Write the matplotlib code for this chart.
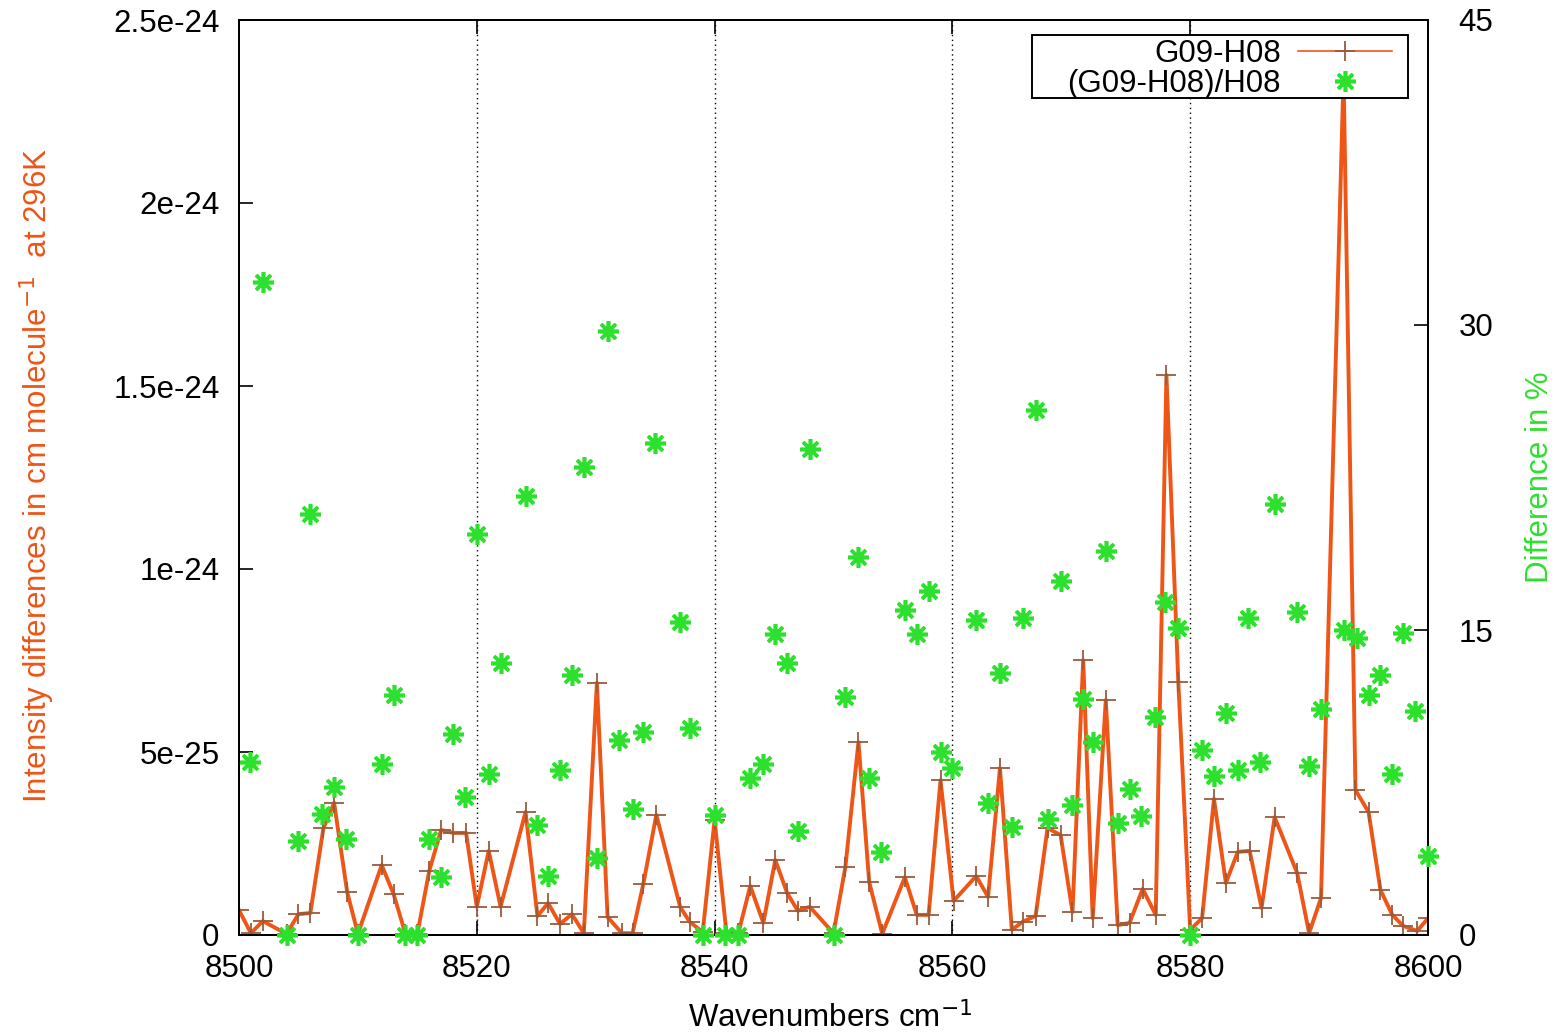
import matplotlib
matplotlib.use("Agg")
import matplotlib.pyplot as plt
from matplotlib.ticker import FixedLocator
from matplotlib.patches import Rectangle

plt.rcParams['font.family'] = ['Liberation Sans', 'DejaVu Sans']

# ---- data: intensity differences (G09-H08), units of 1e-25 ----
wn_diff = [8500.0, 8501.0, 8502.0, 8504.0, 8505.0, 8506.0, 8507.1, 8508.0, 8509.1, 8510.0,
           8512.0, 8513.0, 8514.0, 8515.0, 8516.0, 8517.0, 8518.0, 8519.1, 8520.0, 8521.0,
           8522.0, 8524.1, 8525.1, 8526.0, 8527.0, 8528.0, 8529.0, 8530.1, 8531.0, 8532.2,
           8533.1, 8534.0, 8535.1, 8537.1, 8537.9, 8539.0, 8540.0, 8541.0, 8542.0, 8543.0,
           8544.1, 8545.1, 8546.1, 8547.0, 8548.0, 8550.0, 8551.0, 8552.1, 8553.0, 8554.1,
           8556.0, 8557.0, 8558.0, 8559.0, 8560.1, 8562.0, 8563.0, 8564.0, 8565.0, 8565.9,
           8567.0, 8568.0, 8569.1, 8570.1, 8571.0, 8571.8, 8572.9, 8573.9, 8574.9, 8576.0,
           8577.1, 8578.0, 8579.0, 8580.0, 8581.0, 8582.0, 8583.0, 8584.0, 8585.0, 8586.0,
           8587.1, 8589.0, 8590.0, 8591.0, 8592.9, 8593.9, 8595.0, 8596.0, 8597.0, 8597.9,
           8599.1, 8600.0]
diff_e25 = [0.68, 0.05, 0.38, 0.03, 0.57, 0.60, 2.92, 3.61, 1.17, 0.03,
            1.91, 1.12, 0.03, 0.03, 1.75, 2.87, 2.79, 2.79, 0.77, 2.30,
            0.77, 3.36, 0.52, 0.87, 0.30, 0.57, 0.05, 6.89, 0.49, 0.05,
            0.05, 1.39, 3.28, 0.77, 0.36, 0.08, 3.14, 0.05, 0.05, 1.34,
            0.33, 2.05, 1.15, 0.66, 0.77, 0.05, 1.86, 5.27, 1.45, 0.03,
            1.58, 0.55, 0.55, 4.23, 0.93, 1.61, 1.04, 4.56, 0.14, 0.36,
            0.52, 2.92, 2.73, 0.63, 7.51, 0.46, 6.42, 0.27, 0.33, 1.26,
            0.55, 15.3, 6.91, 0.14, 0.46, 3.72, 1.42, 2.27, 2.30, 0.74,
            3.22, 1.69, 0.05, 1.01, 23.5, 3.96, 3.36, 1.23, 0.55, 0.25,
            0.11, 0.46]

# ---- data: relative difference (G09-H08)/H08 in % ----
wn_rel = [8500.9, 8502.0, 8504.0, 8505.0, 8506.0, 8507.0, 8508.0, 8509.0, 8510.0, 8512.0,
          8513.0, 8514.0, 8515.0, 8516.0, 8517.0, 8518.0, 8519.0, 8520.0, 8521.0, 8522.0,
          8524.1, 8525.1, 8526.0, 8527.0, 8528.0, 8529.0, 8530.1, 8531.0, 8532.0, 8533.1,
          8534.0, 8535.0, 8537.1, 8537.9, 8539.0, 8540.0, 8540.9, 8542.0, 8543.0, 8544.1,
          8545.1, 8546.1, 8547.0, 8548.0, 8550.0, 8551.0, 8552.1, 8553.0, 8554.0, 8556.0,
          8557.0, 8558.0, 8559.0, 8560.0, 8562.0, 8563.0, 8564.0, 8565.0, 8565.9, 8567.0,
          8568.0, 8569.1, 8570.1, 8571.0, 8571.8, 8572.9, 8573.9, 8574.9, 8575.9, 8577.0,
          8577.9, 8579.0, 8580.0, 8581.0, 8582.0, 8583.0, 8584.0, 8584.9, 8585.9, 8587.1,
          8589.0, 8590.0, 8591.0, 8592.9, 8594.0, 8595.0, 8596.0, 8597.0, 8597.9, 8598.9,
          8600.0]
rel_pct = [8.5, 32.1, 0.0, 4.6, 20.7, 5.95, 7.3, 4.7, 0.0, 8.4,
           11.8, 0.0, 0.0, 4.7, 2.85, 9.9, 6.8, 19.7, 7.9, 13.4,
           21.6, 5.4, 2.9, 8.1, 12.8, 23.0, 3.8, 29.7, 9.6, 6.2,
           10.0, 24.2, 15.4, 10.2, 0.0, 5.9, 0.0, 0.0, 7.7, 8.4,
           14.8, 13.4, 5.1, 23.9, 0.0, 11.7, 18.6, 7.7, 4.1, 16.0,
           14.8, 16.9, 9.0, 8.2, 15.5, 6.5, 12.9, 5.3, 15.6, 25.8,
           5.7, 17.4, 6.4, 11.6, 9.5, 18.9, 5.5, 7.2, 5.85, 10.7,
           16.4, 15.1, 0.0, 9.1, 7.8, 10.9, 8.1, 15.6, 8.5, 21.2,
           15.9, 8.3, 11.1, 15.0, 14.6, 11.8, 12.8, 7.9, 14.85, 11.0,
           3.9]

x_ticks = [8500, 8520, 8540, 8560, 8580, 8600]
y_ticks = [0, 5e-25, 1e-24, 1.5e-24, 2e-24, 2.5e-24]
y_ticklabels = ['0', '5e-25', '1e-24', '1.5e-24', '2e-24', '2.5e-24']
y2_ticks = [0, 15, 30, 45]
grid_x = [8520, 8540, 8560, 8580]

ORANGE = '#EE5516'
MARK = '#9A5A3A'
GREEN = '#2EE02E'
FS = 22.5

diff_vals = [v * 1e-25 for v in diff_e25]

W, H = 1556, 1034
fig = plt.figure(figsize=(W / 100, H / 100), dpi=100)
ax = fig.add_axes([239 / W, 1 - 935 / H, (1428 - 239) / W, (935 - 20) / H])
ax2 = ax.twinx()

for gx in grid_x:
    ax.axvline(gx, color='black', linestyle=(0, (1, 2.5)), linewidth=1.0, zorder=0)

l1, = ax.plot(wn_diff, diff_vals, color=ORANGE, linewidth=2.8, marker='+',
              markersize=14, markeredgecolor=MARK, markeredgewidth=1.3,
              label='G09-H08', zorder=3)
l2, = ax2.plot(wn_rel, rel_pct, linestyle='none', marker=(8, 2, 0), markersize=15,
               markeredgecolor=GREEN, markerfacecolor=GREEN, markeredgewidth=2.6,
               label='(G09-H08)/H08', clip_on=False, zorder=4)

ax.set_xlim(8500, 8600)
ax.set_ylim(0, 2.5e-24)
ax2.set_ylim(0, 45)

ax.xaxis.set_major_locator(FixedLocator(x_ticks))
ax.set_yticks(y_ticks)
ax.set_yticklabels(y_ticklabels)
ax2.set_yticks(y2_ticks)

ax.tick_params(axis='x', direction='in', length=10, width=1.2, labelsize=FS, pad=14, top=True)
ax.tick_params(axis='y', direction='in', length=10, width=1.2, labelsize=FS, pad=14)
ax2.tick_params(axis='y', direction='in', length=10, width=1.2, labelsize=FS, pad=22)

for a in (ax, ax2):
    for s in a.spines.values():
        s.set_linewidth(1.4)
        s.set_color('black')

fig.text(830 / W, 1 - 1018 / H, 'Wavenumbers cm$^{-1}$', fontsize=FS,
         ha='center', va='center')
fig.text(37 / W, 1 - 475 / H, 'Intensity differences in cm molecule$^{-1}$  at 296K',
         fontsize=FS, color=ORANGE, rotation=90, ha='center', va='center')
fig.text(1540 / W, 1 - 477 / H, 'Difference in %', fontsize=FS, color=GREEN,
         rotation=90, ha='center', va='center')

ax.set_zorder(ax2.get_zorder() - 1)
ax.patch.set_visible(True)
ax2.patch.set_visible(False)

# legend frame (opaque box, like the reference key)
frame = Rectangle((1032 / W, 1 - 98 / H), (1408 - 1032) / W, (98 - 35) / H,
                  transform=fig.transFigure, facecolor='white', edgecolor='black',
                  linewidth=1.4, zorder=9, clip_on=False)
ax2.add_patch(frame)

leg = ax2.legend(handles=[l1, l2], loc='upper right', markerfirst=False,
                 bbox_to_anchor=(1392 / W, 1 - 39 / H),
                 bbox_transform=fig.transFigure, fontsize=FS, frameon=False,
                 borderaxespad=0, handlelength=3.0, borderpad=0.0,
                 labelspacing=0.0, handletextpad=0.55, numpoints=1)
leg.get_lines()[0].set_linewidth(1.2)
leg.set_zorder(10)

fig.savefig('out.png', dpi=100)
